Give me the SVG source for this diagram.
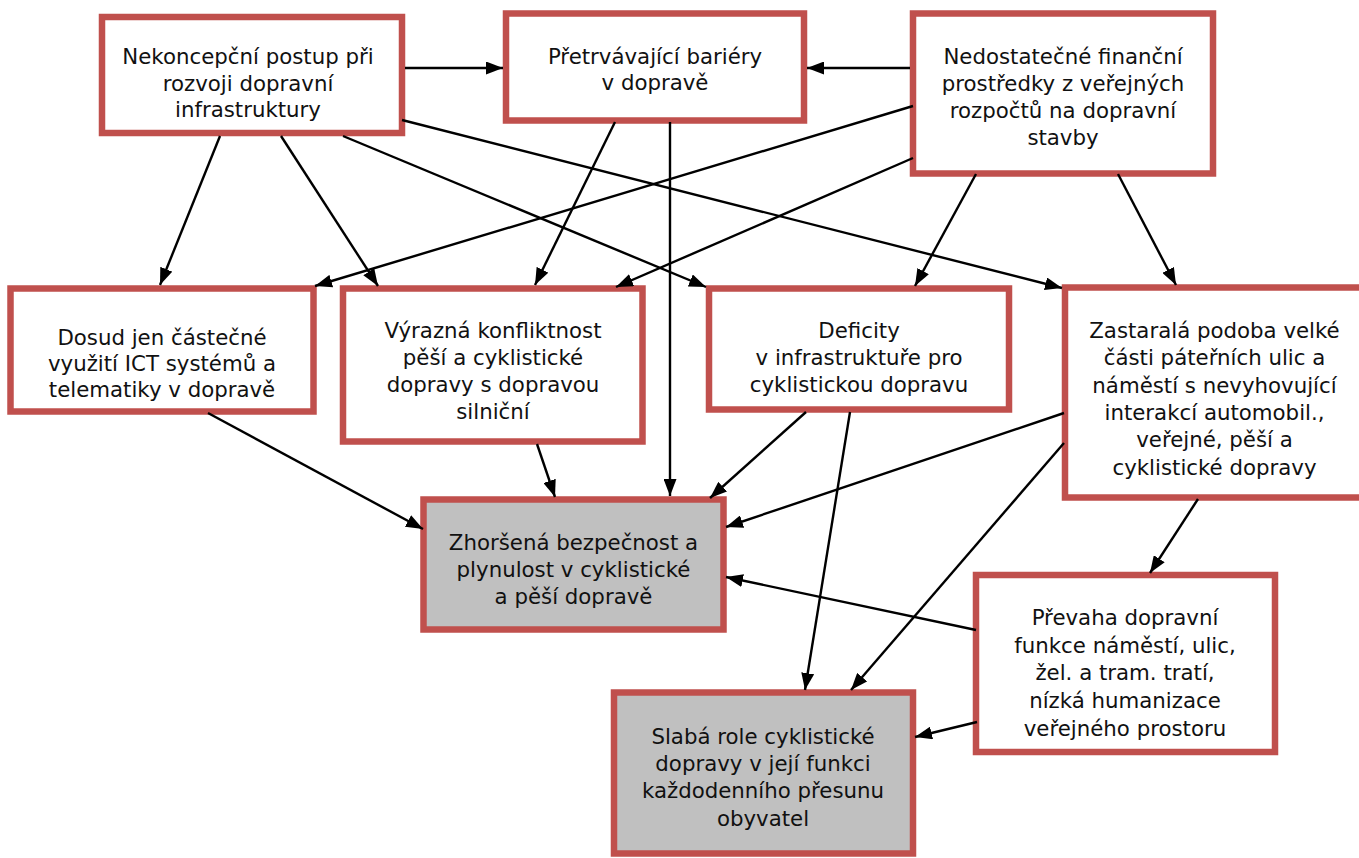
<svg xmlns="http://www.w3.org/2000/svg" width="1359" height="858" viewBox="0 0 1359 858">
<style>
.box{fill:#ffffff;stroke:#c0504d;stroke-width:6.5}
.dark{fill:#c0c0c0}
text{font-family:"DejaVu Sans","Liberation Sans",sans-serif;font-size:21.3px;fill:#111;text-anchor:middle}
.c line{stroke:#000;stroke-width:2.4;marker-end:url(#ah)}
</style>
<defs>
<marker id="ah" viewBox="0 0 17 13" refX="17" refY="6.5" markerWidth="17" markerHeight="13" markerUnits="userSpaceOnUse" orient="auto">
<path d="M0,0 L17,6.5 L0,13 z" fill="#000"/>
</marker>
</defs>
<rect width="1359" height="858" fill="#fff"/>
<g id="nA"><rect class="box" x="102" y="17" width="300" height="116"/>
<text x="248" y="64">Nekoncepční postup při</text><text x="248" y="91">rozvoji dopravní</text><text x="248" y="117">infrastruktury</text></g>
<g id="nB"><rect class="box" x="506" y="13.5" width="298" height="107"/>
<text x="655" y="64">Přetrvávající bariéry</text><text x="655" y="90">v dopravě</text></g>
<g id="nC"><rect class="box" x="913" y="13.5" width="300" height="160"/>
<text x="1063" y="64">Nedostatečné finanční</text><text x="1063" y="91">prostředky z veřejných</text><text x="1063" y="118">rozpočtů na dopravní</text><text x="1063" y="145">stavby</text></g>
<g id="nD"><rect class="box" x="10.5" y="288.5" width="303" height="123"/>
<text x="162" y="345">Dosud jen částečné</text><text x="162" y="371">využití ICT systémů a</text><text x="162" y="397">telematiky v dopravě</text></g>
<g id="nE"><rect class="box" x="343" y="288.5" width="299.5" height="153"/>
<text x="493" y="338">Výrazná konfliktnost</text><text x="493" y="365">pěší a cyklistické</text><text x="493" y="392">dopravy s dopravou</text><text x="493" y="419">silniční</text></g>
<g id="nF"><rect class="box" x="709" y="288.5" width="300" height="121"/>
<text x="859" y="338">Deficity</text><text x="859" y="365">v infrastruktuře pro</text><text x="859" y="392">cyklistickou dopravu</text></g>
<g id="nG"><rect class="box" x="1065" y="287.5" width="299" height="210"/>
<text x="1214.5" y="338">Zastaralá podoba velké</text><text x="1214.5" y="365">části páteřních ulic a</text><text x="1214.5" y="392.5">náměstí s nevyhovující</text><text x="1214.5" y="420">interakcí automobil.,</text><text x="1214.5" y="447">veřejné, pěší a</text><text x="1214.5" y="475">cyklistické dopravy</text></g>
<g id="nH"><rect class="box dark" x="423.5" y="499.5" width="300" height="130"/>
<text x="573.5" y="550">Zhoršená bezpečnost a</text><text x="573.5" y="577">plynulost v cyklistické</text><text x="573.5" y="604">a pěší dopravě</text></g>
<g id="nI"><rect class="box" x="976" y="575" width="299" height="177"/>
<text x="1125" y="625">Převaha dopravní</text><text x="1125" y="653">funkce náměstí, ulic,</text><text x="1125" y="680">žel. a tram. tratí,</text><text x="1125" y="708">nízká humanizace</text><text x="1125" y="736">veřejného prostoru</text></g>
<g id="nJ"><rect class="box dark" x="614" y="692.5" width="299" height="161"/>
<text x="763" y="744">Slabá role cyklistické</text><text x="763" y="771">dopravy v její funkci</text><text x="763" y="798">každodenního přesunu</text><text x="763" y="826">obyvatel</text></g>
<g id="connectors" class="c">
<line x1="405" y1="68" x2="503" y2="68"/>
<line x1="910" y1="68" x2="807" y2="68"/>
<line x1="220" y1="136" x2="160" y2="285"/>
<line x1="281" y1="136" x2="378" y2="286"/>
<line x1="343" y1="136" x2="706" y2="287"/>
<line x1="402" y1="120" x2="1062" y2="288"/>
<line x1="615" y1="122" x2="535" y2="285"/>
<line x1="670" y1="122" x2="670" y2="496"/>
<line x1="913" y1="106" x2="315" y2="286"/>
<line x1="913" y1="158" x2="616" y2="287"/>
<line x1="976" y1="174" x2="915" y2="286"/>
<line x1="1118" y1="174" x2="1176" y2="285"/>
<line x1="208" y1="413" x2="423" y2="529"/>
<line x1="537" y1="444" x2="555" y2="497"/>
<line x1="806" y1="412" x2="710" y2="498"/>
<line x1="850" y1="412" x2="805" y2="690"/>
<line x1="1064" y1="413" x2="726" y2="527"/>
<line x1="1064" y1="443" x2="851" y2="690"/>
<line x1="1198" y1="499" x2="1150" y2="573"/>
<line x1="976" y1="630" x2="726" y2="577"/>
<line x1="977" y1="722" x2="915" y2="737"/>
</g>
</svg>
